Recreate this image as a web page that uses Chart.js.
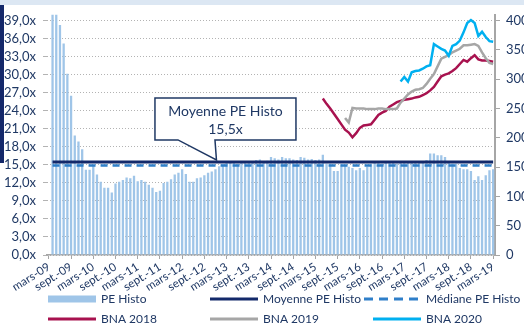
<!DOCTYPE html>
<html lang="fr">
<head>
<meta charset="utf-8">
<script src="https://cdn.jsdelivr.net/npm/chart.js@4.4.1/dist/chart.umd.min.js"></script>
<style>
  html, body { margin: 0; padding: 0; background: #fff; }
  #cadre { position: relative; width: 524px; height: 327px; overflow: hidden; }
  #bandeau { position: absolute; left: 0; top: 0; width: 524px; height: 5px; background: #dce7f3; }
  #filet { position: absolute; left: 0; top: 5px; width: 4px; height: 158px; background: #14286a; }
  canvas { position: absolute; left: 0; top: 0; }
</style>
</head>
<body>
<div id="cadre">
  <div id="bandeau"></div>
  <div id="filet"></div>
  <canvas id="graphe" width="524" height="327"></canvas>
</div>
<script>
// Axe des mois : mars-09 -> mars-19 (121 points mensuels)
const moisCourts = ['janv.', 'févr.', 'mars', 'avr.', 'mai', 'juin', 'juil.', 'août', 'sept.', 'oct.', 'nov.', 'déc.'];
const mois = [];
for (let k = 0; k <= 120; k++) {
  const m = (2 + k) % 12;
  const a = 9 + Math.floor((2 + k) / 12);
  mois.push(moisCourts[m] + '-' + String(a).padStart(2, '0'));
}

// graduations des deux axes verticaux
const graduationsPE = [0, 3, 6, 9, 12, 15, 18, 21, 24, 27, 30, 33, 36, 39];
const graduationsBNA = [0, 50, 100, 150, 200, 250, 300, 350, 400];

// PE historique (x)
const peHisto = [
  null, 48, 46, 38.3, 35.2, 30.2, 26.5, 19.9, 18.9, 17.6,
  14.2, 14.2, 14.9, 13.4, 12.2, 11.2, 11.2, 10.4, 11.9, 12.2,
  12.5, 12.9, 12.8, 13.2, 12.3, 12.5, 12.2, 11.7, 11.2, 10.5,
  10.7, 12.0, 12.2, 12.6, 13.4, 13.7, 14.3, 13.5, 12.2, 12.2,
  12.8, 12.9, 13.3, 13.7, 13.9, 14.3, 14.8, 15.1, 15.4, 15.3,
  15.4, 15.2, 15.4, 15.6, 15.3, 15.4, 15.8, 15.9, 15.4, 15.7,
  16.3, 16.1, 15.9, 16.3, 16.1, 16.1, 15.9, 15.8, 16.3, 16.2,
  15.9, 16.0, 15.8, 15.9, 16.7, 15.2, 15.2, 14.0, 14.0, 15.1,
  14.9, 14.7, 14.5, 14.1, 14.5, 14.1, 14.7, 15.2, 15.3, 15.4,
  15.2, 15.3, 15.5, 15.3, 15.2, 15.4, 15.3, 15.5, 15.3, 15.4,
  15.3, 15.5, 15.8, 16.9, 16.9, 16.6, 16.6, 16.3, 15.5, 15.2,
  15.2, 14.5, 14.3, 14.3, 14.0, 12.5, 13.1, 12.5, 13.3, 14.1,
  14.3
];
const moyennePE = 15.5;
const medianePE = 14.9;

// BNA consensus, chaque série commence à un mois donné
const debut2018 = 74;
const bna2018Valeurs = [
  267, 258, 250, 241, 232, 223, 214, 209, 201, 208,
  217, 221, 222, 223, 231, 239, 243, 246, 253, 257,
  261, 263, 265, 266, 267, 269, 270, 273, 276, 281,
  287, 296, 305, 308, 310, 314, 319, 326, 333, 330,
  336, 341, 334, 332, 332, 331, 330
];
const debut2019 = 80;
const bna2019Valeurs = [
  234, 226, 251, 250, 250, 250, 249, 249, 249, 250,
  250, 249, 249, 249, 250, 260, 267, 274, 279, 282,
  283, 285, 292, 301, 309, 322, 335, 338, 341, 346,
  349, 352, 358, 358, 359, 360, 357, 346, 336, 328,
  326
];
const debut2020 = 95;
const bna2020Valeurs = [
  296, 304, 296, 312, 314, 315, 318, 322, 324, 360,
  356, 352, 349, 340, 357, 360, 366, 380, 396, 401,
  396, 374, 381, 372, 365, 364
];

function serie(debut, valeurs) {
  return Array(debut).fill(null).concat(valeurs);
}
const ligneMoyenne = peHisto.map(v => v === null ? null : moyennePE);
const ligneMediane = peHisto.map(v => v === null ? null : medianePE);

const bleuNuit = '#1f3864';
const police = 'Lato, "Open Sans", sans-serif';

// Bulle "Moyenne PE Histo" accrochée à la ligne de moyenne
const bulle = {
  id: 'bulle',
  afterDraw(chart) {
    const ctx = chart.ctx;
    const tx = chart.scales.x.getPixelForValue(45) + 1;
    const ty = chart.scales.y.getPixelForValue(moyennePE) - 2;
    const g = tx - 61.5, d = tx + 79.5, h = ty - 62, b = ty - 20;
    ctx.save();
    ctx.beginPath();
    ctx.moveTo(g, h);
    ctx.lineTo(d, h);
    ctx.lineTo(d, b);
    ctx.lineTo(tx - 1.5, b);
    ctx.lineTo(tx, ty);
    ctx.lineTo(tx - 38.5, b);
    ctx.lineTo(g, b);
    ctx.closePath();
    ctx.fillStyle = '#fff';
    ctx.fill();
    ctx.lineWidth = 1.5;
    ctx.strokeStyle = bleuNuit;
    ctx.stroke();
    ctx.fillStyle = bleuNuit;
    ctx.font = '14px ' + police;
    ctx.textAlign = 'center';
    ctx.textBaseline = 'middle';
    const cx = (g + d) / 2;
    ctx.fillText('Moyenne PE Histo', cx, h + 14);
    ctx.fillText(moyennePE.toFixed(1).replace('.', ',') + 'x', cx, h + 32);
    ctx.restore();
  }
};

// Légende sur deux lignes, trois colonnes
const legendeBas = {
  id: 'legendeBas',
  afterDraw(chart) {
    const ctx = chart.ctx;
    const cols = [48, 210, 373];
    const rows = [299, 319];
    chart.data.datasets.forEach((ds, k) => {
      const x = cols[k % 3];
      const y = rows[Math.floor(k / 3)];
      ctx.save();
      if (ds.type === 'bar') {
        ctx.fillStyle = ds.backgroundColor;
        ctx.fillRect(x, y - 3.5, 48, 7);
      } else {
        ctx.strokeStyle = ds.borderColor;
        ctx.lineWidth = 3;
        ctx.setLineDash(ds.borderDash ? [9, 6] : []);
        ctx.beginPath();
        ctx.moveTo(ds.borderDash ? x - 9 : x, y);
        ctx.lineTo(x + 48, y);
        ctx.stroke();
      }
      ctx.fillStyle = bleuNuit;
      ctx.font = '12px ' + police;
      ctx.textBaseline = 'middle';
      ctx.fillText(ds.label, x + 53, y);
      ctx.restore();
    });
  }
};

new Chart(document.getElementById('graphe'), {
  data: {
    labels: mois,
    datasets: [
      { type: 'bar', label: 'PE Histo', data: peHisto, backgroundColor: '#9fc5e8',
        barPercentage: 1, categoryPercentage: 0.62, yAxisID: 'y', order: 10 },
      { type: 'line', label: 'Moyenne PE Histo', data: ligneMoyenne, borderColor: '#13296a',
        borderWidth: 3, pointRadius: 0, yAxisID: 'y', order: 5 },
      { type: 'line', label: 'Médiane PE Histo', data: ligneMediane, borderColor: '#2f7fc9',
        borderWidth: 2.5, borderDash: [7, 5], pointRadius: 0, yAxisID: 'y', order: 4 },
      { type: 'line', label: 'BNA 2018', data: serie(debut2018, bna2018Valeurs), borderColor: '#a8124f',
        borderWidth: 2.5, pointRadius: 0, yAxisID: 'y1', order: 3 },
      { type: 'line', label: 'BNA 2019', data: serie(debut2019, bna2019Valeurs), borderColor: '#a6a6a6',
        borderWidth: 2.5, pointRadius: 0, yAxisID: 'y1', order: 2 },
      { type: 'line', label: 'BNA 2020', data: serie(debut2020, bna2020Valeurs), borderColor: '#00b0f0',
        borderWidth: 2.5, pointRadius: 0, yAxisID: 'y1', order: 1 }
    ]
  },
  options: {
    responsive: false,
    animation: false,
    devicePixelRatio: 1,
    layout: { padding: { top: 12, left: 0, right: 0, bottom: 0 } },
    plugins: { legend: { display: false }, tooltip: { enabled: false } },
    scales: {
      x: {
        offset: true,
        grid: {
          drawOnChartArea: false, drawTicks: true, tickLength: 4, offset: false,
          color: c => c.index % 6 === 0 ? '#a6a6a6' : 'rgba(0,0,0,0)'
        },
        border: { display: true, color: '#a6a6a6', width: 1.5 },
        ticks: {
          autoSkip: false, minRotation: 32, maxRotation: 32, padding: 1,
          color: bleuNuit, font: { family: police, size: 11.5 },
          callback: function (v, i) { return i % 6 === 0 ? this.getLabelForValue(v) : ''; }
        },
        afterFit: s => { s.height = 72; }
      },
      y: {
        position: 'left', min: 0, max: 40,
        afterBuildTicks: s => { s.ticks = graduationsPE.map(v => ({ value: v })); },
        ticks: {
          autoSkip: false, padding: 7, color: bleuNuit, font: { family: police, size: 13 },
          callback: v => v.toFixed(1).replace('.', ',') + 'x'
        },
        grid: { color: '#b3b3b3', lineWidth: 1, tickLength: 4 },
        border: { display: false, dash: [1, 2] },
        afterFit: s => { s.width = 47; }
      },
      y1: {
        position: 'right', min: 0, max: 410,
        afterBuildTicks: s => { s.ticks = graduationsBNA.map(v => ({ value: v })); },
        ticks: { autoSkip: false, padding: 6, color: bleuNuit, font: { family: police, size: 13 } },
        grid: { drawOnChartArea: false, tickLength: 5, color: '#a6a6a6' },
        border: { display: true, color: '#a6a6a6', width: 2 },
        afterFit: s => { s.width = 29; }
      }
    }
  },
  plugins: [bulle, legendeBas]
});
</script>
</body>
</html>
